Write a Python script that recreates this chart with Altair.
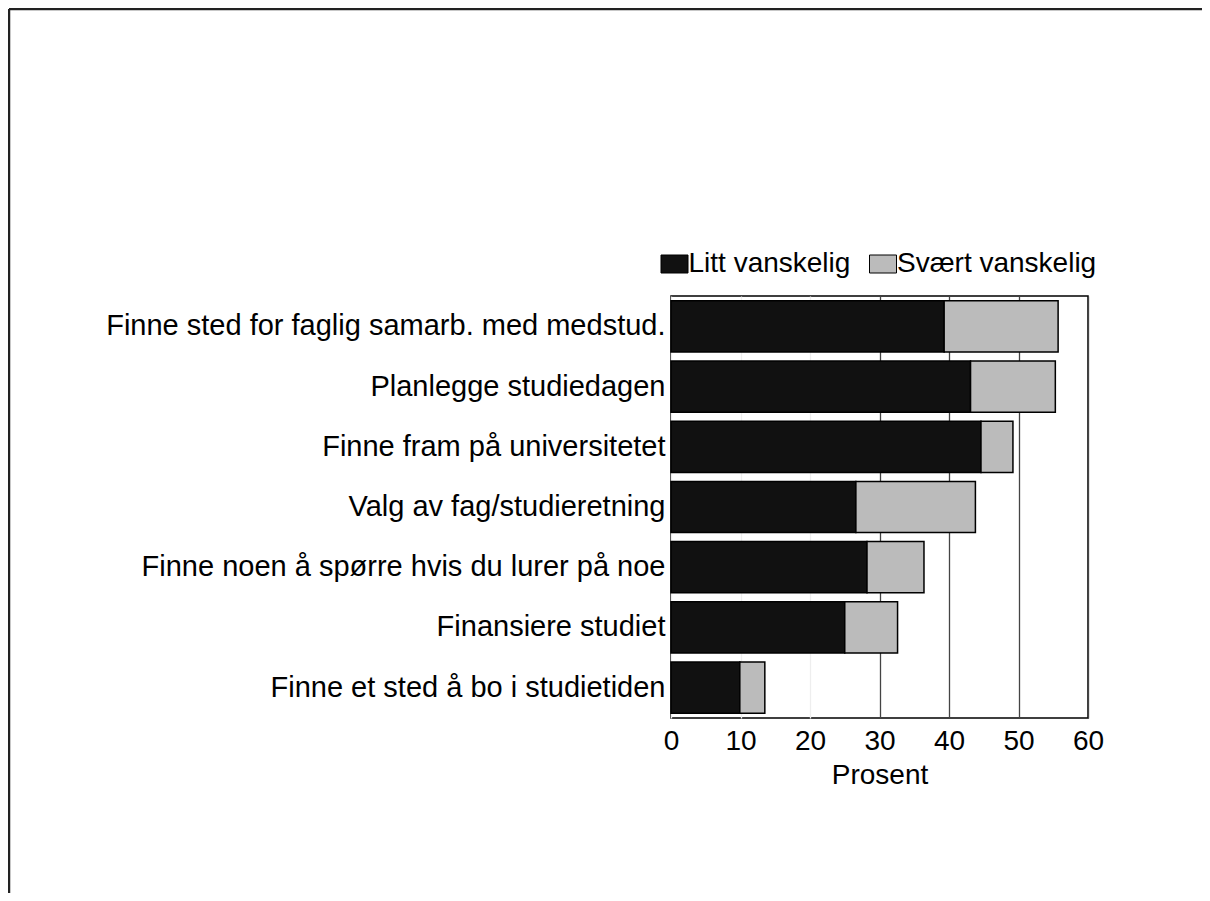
import altair as alt
import pandas as pd

categories = [
    "Finne sted for faglig samarb. med medstud.",
    "Planlegge studiedagen",
    "Finne fram på universitetet",
    "Valg av fag/studieretning",
    "Finne noen å spørre hvis du lurer på noe",
    "Finansiere studiet",
    "Finne et sted å bo i studietiden",
]
litt = [39.3, 43.1, 44.6, 26.6, 28.2, 25.0, 9.9]
svaert = [16.4, 12.2, 4.6, 17.2, 8.2, 7.6, 3.6]
series = ["Litt vanskelig", "Svært vanskelig"]
colors = ["#111111", "#bbbbbb"]
x_ticks = [0, 10, 20, 30, 40, 50, 60]

rows = []
for c, a, b in zip(categories, litt, svaert):
    rows.append({"kat": c, "serie": series[0], "verdi": a, "ord": 0})
    rows.append({"kat": c, "serie": series[1], "verdi": b, "ord": 1})
df = pd.DataFrame(rows)

FONT = "Liberation Sans"

bars = alt.Chart(df).mark_bar(stroke="black", strokeWidth=1.5).encode(
    y=alt.Y("kat:N", sort=categories,
            scale=alt.Scale(paddingInner=0.15, paddingOuter=0.08),
            axis=alt.Axis(title=None, ticks=False, domain=False, labelPadding=6,
                          labelLimit=800, labelFontSize=29, labelFont=FONT,
                          labelColor="black", grid=False)),
    x=alt.X("verdi:Q", stack="zero",
            scale=alt.Scale(domain=[0, 60], nice=False, zero=True),
            axis=alt.Axis(title="Prosent", values=x_ticks, ticks=False, domain=False,
                          labelFontSize=28, labelFont=FONT, labelColor="black",
                          labelFlush=False,
                          labelPadding=9, titleFontSize=28, titleFont=FONT,
                          titleFontWeight="normal", titleColor="black", titlePadding=6,
                          grid=True, gridWidth=1.3,
                          gridColor={"condition": {"test": "datum.value >= 30", "value": "#444444"},
                                     "value": "#eeeeee"})),
    color=alt.Color("serie:N", sort=series,
                    scale=alt.Scale(domain=series, range=colors),
                    legend=alt.Legend(title=None, orient="none", direction="horizontal",
                                      legendX=-10.5, legendY=-46, padding=0,
                                      symbolType="M-1.35,-0.9H1.35V0.9H-1.35Z",
                                      symbolSize=400, symbolStrokeColor="black",
                                      symbolStrokeWidth=1, symbolOpacity=1,
                                      labelFontSize=28, labelFont=FONT, labelColor="black",
                                      labelOffset=0, columnPadding=16.5, labelLimit=400)),
    order=alt.Order("ord:Q"),
)

frame_data = alt.Data(values=[{"f": 1}])
top_line = alt.Chart(frame_data).mark_rule(color="#222222", strokeWidth=2.5, clip=False).encode(
    x=alt.value(-662), x2=alt.value(531), y=alt.value(-287)
)
left_line = alt.Chart(frame_data).mark_rule(color="#222222", strokeWidth=2.5, clip=False).encode(
    x=alt.value(-662), y=alt.value(-287), y2=alt.value(597)
)

chart = alt.layer(bars, top_line, left_line).properties(
    width=417, height=422,
    autosize=alt.AutoSizeParams(type="none"),
    padding={"left": 663, "top": 288, "right": 114, "bottom": 175},
    background="white",
).configure_view(stroke="black", strokeWidth=1.5)

chart.save("out.html", embed_options={"renderer": "svg", "actions": False})
